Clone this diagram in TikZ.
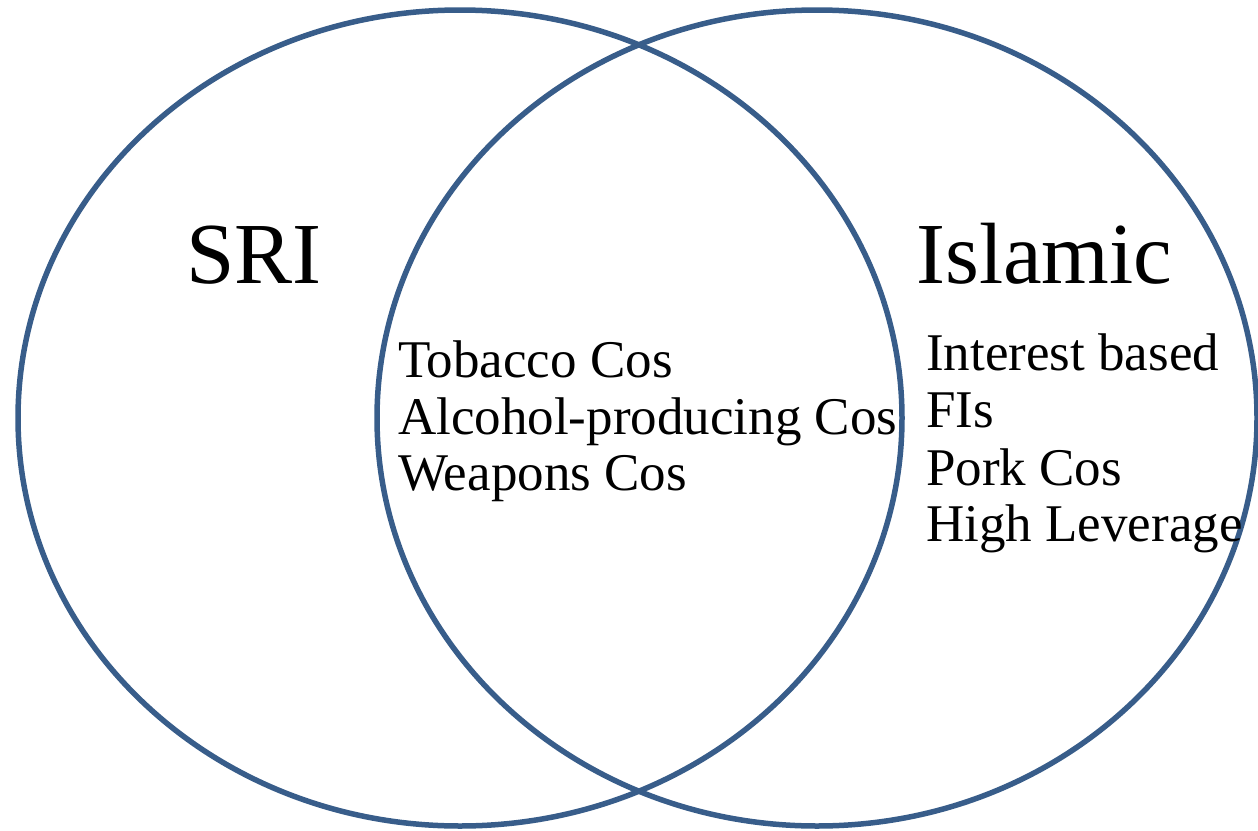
\documentclass[tikz,border=0pt]{standalone}
\usepackage{fontspec}
\setmainfont{Liberation Serif}
\definecolor{ringblue}{HTML}{385D8A}
\tikzset{
  ring/.style={draw=ringblue, line width=5.5pt},
  setlabel/.style={inner sep=0pt, anchor=base west, font=\fontsize{87}{87}\selectfont},
  item/.style={inner sep=0pt, anchor=base west, font=\fontsize{53}{57}\selectfont}
}
\begin{document}
\begin{tikzpicture}[x=1pt,y=-1pt]
\useasboundingbox (0,0) rectangle (1258,830);
% the two overlapping sets
\draw[ring] (460,418) ellipse [x radius=442, y radius=408];
\draw[ring] (817,418) ellipse [x radius=440, y radius=408];
% set names
\node[setlabel] (sri) at (186,283) {SRI};
\node[setlabel] (islamic) at (916,283) {Islamic};
% shared exclusions
\node[item] (tob) at (398,377) {Tobacco Cos};
\node[item] (alc) at (398,434) {Alcohol-producing Cos};
\node[item] (wea) at (398,490) {Weapons Cos};
% Islamic-only exclusions
\node[item] (int) at (926,370) {Interest based};
\node[item] (fis) at (926,427) {FIs};
\node[item] (pork) at (926,485) {Pork Cos};
\node[item] (lev) at (926,541) {High Leverage};
\end{tikzpicture}
\end{document}
